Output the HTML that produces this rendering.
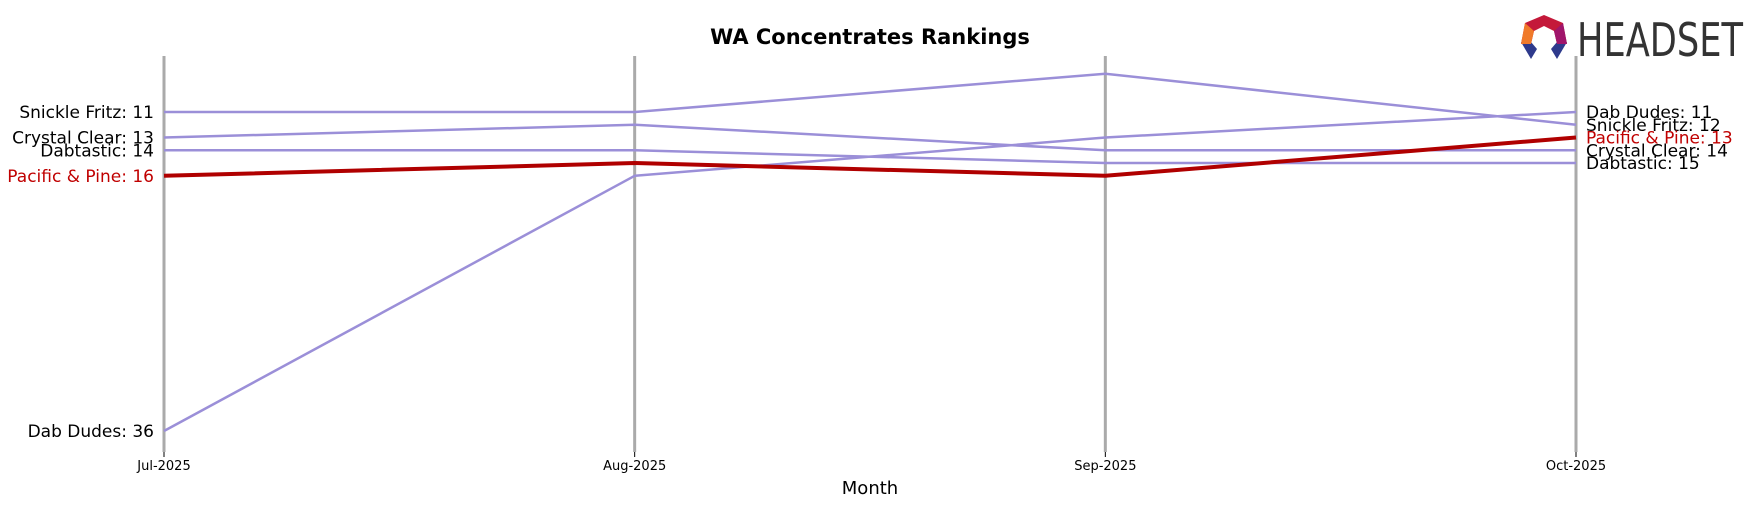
<!DOCTYPE html>
<html><head><meta charset="utf-8"><style>body{margin:0;background:#fff}svg{display:block}</style></head>
<body>
<svg id="chart" width="1759" height="507" xmlns="http://www.w3.org/2000/svg" font-family="'DejaVu Sans', 'Liberation Sans', sans-serif">
<text x="870" y="44" text-anchor="middle" font-size="21" font-weight="bold">WA Concentrates Rankings</text>
<g>
<polygon points="1544,15 1563,23 1567,44 1557,44 1554,31 1544,26 1534,31 1531,44 1521,44 1525,23" fill="#c4193a"/>
<polygon points="1521,42 1531,42 1537,49 1531,59" fill="#2e3a8c"/>
<polygon points="1567,42 1557,42 1551,49 1557,59" fill="#2e3a8c"/>
<polygon points="1525,23 1534,31 1531,44 1521,44" fill="#f07a2a"/>
<polygon points="1563,23 1554,31 1557,44 1567,44" fill="#a0156b"/>
<text x="1577" y="56" font-size="46" fill="#333" textLength="166" lengthAdjust="spacingAndGlyphs">HEADSET</text>
</g>
<g id="axes"></g><g id="lines"></g><g id="labels"></g>
<text x="870" y="494" text-anchor="middle" font-size="18">Month</text>
</svg>
<script>
const months = ["Jul-2025","Aug-2025","Sep-2025","Oct-2025"];
const brands = ["Snickle Fritz","Crystal Clear","Dabtastic","Dab Dudes","Pacific & Pine"];
const snickleFritz = [11,11,8,12];
const crystalClear = [13,12,14,14];
const dabtastic = [14,14,15,15];
const dabDudes = [36,16,13,11];
const pacificPine = [16,15,16,13];
const series = [snickleFritz,crystalClear,dabtastic,dabDudes,pacificPine];
const highlight = "Pacific & Pine";
const NS="http://www.w3.org/2000/svg";
const x = i => 164 + i*(1576-164)/(months.length-1);
const y = r => 112 + (r-11)*(431-112)/25;
function mk(tag, attrs, parent){const e=document.createElementNS(NS,tag);for(const k in attrs)e.setAttribute(k,attrs[k]);parent.appendChild(e);return e;}
const axes=document.getElementById('axes'),lines=document.getElementById('lines'),labels=document.getElementById('labels');
months.forEach((m,i)=>{
  const l=mk('line',{x1:x(i),x2:x(i),y1:56,y2:452,stroke:'#aaa','stroke-width':3},axes);
  
  
  mk('line',{x1:x(i),x2:x(i),y1:452,y2:457,stroke:'#000','stroke-width':1},axes);
  const t=mk('text',{x:x(i),y:470,'text-anchor':'middle','font-size':13},axes);
  t.textContent=m;
  
  
});
brands.forEach((b,k)=>{
  const v=series[k];const hi=b===highlight;const col=hi?'#b00000':'#9b8fd8';
  const p=mk('polyline',{points:v.map((r,i)=>x(i)+','+y(r)).join(' '),fill:'none',stroke:col,'stroke-width':hi?4:2.5},lines);
  
  
  const a=mk('text',{x:x(0)-10,y:y(v[0])+6,'text-anchor':'end','font-size':17,fill:hi?'#c00000':'#000'},labels);
  a.textContent=b+': '+v[0];
  
  
  const n=v.length-1;
  const c=mk('text',{x:x(n)+10,y:y(v[n])+6,'font-size':17,fill:hi?'#c00000':'#000'},labels);
  c.textContent=b+': '+v[n];
  
  
});
</script>
</body></html>
